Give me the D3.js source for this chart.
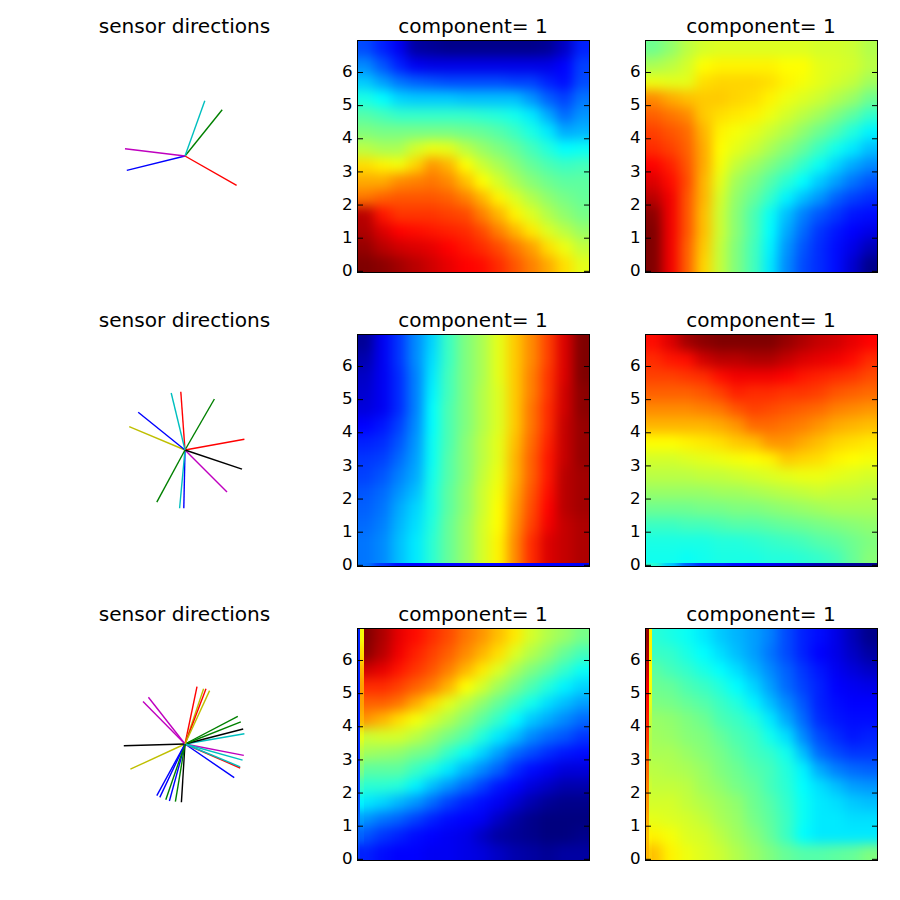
<!DOCTYPE html>
<html>
<head>
<meta charset="utf-8">
<script src="https://cdn.jsdelivr.net/npm/d3@7"></script>
<style>
  html, body { margin: 0; padding: 0; background: #fff; }
  text { font-family: "DejaVu Sans", sans-serif; fill: #000; }
</style>
</head>
<body>
<div id="chart"></div>
<script>
const sensorTitle = 'sensor directions';
const panelTitle = 'component= 1';
const yTicks = [0, 1, 2, 3, 4, 5, 6];
const yExtent = [-0.05, 6.95];

// sensor direction vectors, in colour-cycle order
const sensorsX1 = [-0.97, 0.62, 0.86, 0.33, -1.0];
const sensorsY1 = [-0.24, 0.77, -0.49, 0.92, 0.12];
const sensorsX2 = [-0.02, 0.49, 0.99, -0.09, 0.70, -0.93, 0.95, -0.78, -0.47, -0.07, -0.23];
const sensorsY2 = [-0.97, 0.85, 0.18, -0.97, -0.70, 0.39, -0.32, 0.63, -0.87, 0.97, 0.95];
const sensorsX3 = [0.82, 0.88, 0.92, 0.99, 0.98, -0.91, 0.97, -0.26, 0.93, 0.20, 0.96, -0.70, 0.31, -1.02, -0.42, -0.32, 0.35, 0.92, -0.61, 0.41, -0.06, -0.47, -0.16];
const sensorsY3 = [-0.56, 0.46, -0.40, 0.17, -0.19, -0.42, 0.25, -0.95, 0.37, 0.955, -0.27, 0.71, 0.92, -0.03, -0.89, -0.93, 0.92, -0.38, 0.78, 0.89, -0.97, -0.86, -0.96];
const sensorPalette = ['#0000ff', '#008000', '#ff0000', '#00bfbf', '#bf00bf', '#bfbf00', '#000000'];

// heatmap values on the 0-100 colour range, top row first
const heatA = [
  [18, 14, 10, 3, 2, 1, 1, 1, 1, 1, 1, 2, 6, 14],
  [24, 19, 14, 10, 9, 9, 9, 9, 9, 9, 9, 9, 11, 17],
  [30, 26, 22, 20, 19, 18, 18, 18, 18, 17, 17, 14, 12, 18],
  [38, 35, 31, 30, 30, 30, 29, 29, 29, 29, 25, 20, 17, 22],
  [45, 43, 41, 41, 41, 41, 41, 40, 39, 37, 33, 27, 21, 25],
  [50, 49, 49, 49, 49, 49, 48, 47, 45, 42, 38, 33, 27, 28],
  [57, 55, 55, 60, 63, 62, 57, 53, 50, 47, 43, 39, 35, 36],
  [68, 66, 64, 69, 75, 72, 65, 59, 55, 51, 47, 44, 42, 43],
  [73, 73, 76, 77, 78, 76, 71, 65, 60, 55, 51, 48, 46, 46],
  [78, 80, 81, 81, 81, 80, 77, 72, 66, 61, 56, 52, 49, 47],
  [95, 87, 84, 84, 84, 83, 82, 77, 72, 66, 61, 56, 52, 49],
  [96, 92, 89, 88, 87, 86, 85, 82, 77, 72, 67, 61, 57, 53],
  [98, 95, 93, 92, 91, 89, 87, 85, 82, 78, 74, 68, 63, 58],
  [100, 99, 97, 95, 93, 91, 89, 88, 85, 81, 77, 73, 68, 62]
];
const heatB = [
  [48, 52, 57, 60, 61, 61, 61, 61, 61, 61, 60, 60, 59, 56],
  [55, 57, 60, 65, 66, 66, 66, 66, 65, 65, 62, 61, 60, 57],
  [63, 62, 62, 68, 69, 69, 69, 68, 66, 64, 62, 60, 58, 54],
  [76, 73, 71, 70, 70, 69, 68, 66, 63, 61, 59, 56, 53, 48],
  [80, 78, 76, 70, 68, 67, 66, 63, 60, 57, 54, 50, 46, 41],
  [83, 81, 79, 72, 66, 64, 62, 59, 56, 52, 48, 44, 39, 34],
  [85, 83, 80, 73, 65, 62, 59, 55, 51, 47, 42, 37, 33, 29],
  [89, 86, 81, 73, 64, 58, 54, 50, 46, 41, 36, 31, 27, 24],
  [92, 88, 82, 72, 62, 54, 50, 45, 40, 35, 30, 26, 22, 19],
  [95, 90, 81, 72, 60, 52, 47, 41, 34, 29, 25, 20, 17, 15],
  [99, 90, 81, 71, 59, 51, 44, 36, 29, 23, 19, 16, 13, 12],
  [100, 90, 81, 71, 59, 51, 44, 35, 27, 21, 16, 13, 11, 9],
  [100, 90, 80, 70, 58, 50, 43, 34, 25, 19, 15, 12, 9, 5],
  [100, 90, 80, 69, 58, 50, 43, 33, 24, 18, 15, 12, 7, 1]
];
const heatC = [
  [2, 10, 16, 24, 31, 42, 50, 55, 62, 70, 76, 83, 92, 100],
  [4, 10, 16, 24, 32, 42, 50, 55, 62, 70, 76, 83, 92, 100],
  [6, 10, 15, 23, 33, 43, 50, 55, 62, 70, 77, 84, 92, 100],
  [7, 10, 15, 23, 34, 43, 50, 56, 61, 70, 77, 84, 93, 99],
  [8, 10, 15, 23, 35, 44, 50, 56, 61, 70, 78, 85, 93, 99],
  [11, 13, 17, 24, 35, 44, 50, 56, 61, 70, 78, 85, 94, 98],
  [14, 15, 19, 25, 36, 44, 51, 57, 62, 71, 79, 86, 94, 98],
  [16, 17, 21, 26, 36, 45, 51, 57, 62, 72, 80, 87, 94, 98],
  [17, 19, 23, 27, 37, 45, 51, 58, 63, 72, 80, 87, 95, 97],
  [19, 21, 25, 29, 38, 46, 52, 59, 64, 73, 81, 88, 95, 97],
  [20, 22, 27, 31, 38, 46, 52, 59, 65, 74, 82, 89, 95, 97],
  [21, 23, 28, 32, 39, 47, 53, 60, 65, 75, 83, 90, 94, 96],
  [22, 24, 29, 33, 40, 47, 53, 60, 66, 76, 85, 92, 94, 96],
  [22, 24, 29, 33, 40, 47, 53, 60, 66, 76, 85, 92, 94, 96]
];
const heatD = [
  [88, 92, 97, 99, 100, 100, 100, 100, 98, 96, 94, 93, 91, 89],
  [85, 87, 88, 93, 95, 95, 96, 96, 94, 92, 91, 90, 88, 85],
  [83, 83, 84, 85, 88, 90, 90, 90, 89, 87, 86, 85, 84, 82],
  [80, 80, 80, 81, 83, 86, 85, 85, 84, 84, 83, 81, 80, 79],
  [76, 76, 76, 77, 78, 81, 83, 82, 81, 80, 79, 77, 76, 75],
  [72, 72, 72, 72, 73, 75, 79, 79, 78, 77, 75, 73, 72, 71],
  [65, 65, 66, 67, 68, 70, 71, 75, 75, 73, 71, 69, 68, 67],
  [60, 60, 61, 62, 63, 64, 65, 66, 70, 69, 68, 66, 65, 64],
  [57, 57, 57, 58, 58, 59, 60, 61, 62, 63, 63, 62, 61, 60],
  [53, 53, 53, 53, 54, 54, 55, 56, 57, 58, 59, 58, 58, 57],
  [48, 48, 48, 49, 49, 50, 50, 51, 52, 53, 54, 55, 55, 55],
  [42, 42, 43, 43, 44, 45, 45, 46, 47, 48, 49, 50, 51, 52],
  [38, 38, 38, 38, 39, 39, 40, 41, 42, 43, 45, 46, 48, 50],
  [37, 37, 36, 37, 38, 38, 38, 39, 39, 40, 41, 43, 47, 51]
];
const heatE = [
  [100, 96, 91, 88, 85, 82, 78, 75, 71, 67, 60, 56, 53, 49],
  [99, 95, 90, 86, 83, 80, 76, 72, 68, 61, 56, 52, 47, 43],
  [93, 91, 87, 84, 81, 77, 72, 67, 61, 55, 50, 46, 41, 36],
  [85, 85, 83, 80, 77, 72, 65, 60, 54, 49, 44, 39, 34, 31],
  [80, 80, 78, 73, 68, 62, 57, 52, 47, 42, 37, 32, 29, 26],
  [75, 72, 68, 64, 60, 56, 51, 46, 41, 35, 30, 27, 24, 21],
  [59, 60, 60, 57, 53, 49, 45, 39, 33, 29, 24, 21, 19, 16],
  [54, 53, 52, 49, 47, 41, 36, 31, 26, 21, 18, 15, 13, 12],
  [46, 46, 46, 42, 38, 33, 28, 24, 20, 15, 12, 10, 8, 8],
  [40, 40, 39, 34, 29, 25, 21, 17, 13, 11, 8, 6, 4, 4],
  [33, 31, 28, 25, 21, 17, 14, 12, 10, 7, 4, 2, 1, 1],
  [25, 22, 20, 17, 14, 12, 11, 10, 6, 3, 1, 0, 0, 0],
  [19, 16, 14, 12, 11, 10, 9, 6, 3, 2, 1, 0, 0, 1],
  [14, 12, 11, 11, 10, 10, 9, 8, 6, 4, 3, 2, 3, 3]
];
const heatF = [
  [40, 38, 36, 33, 30, 28, 26, 23, 18, 14, 12, 9, 5, 1],
  [42, 41, 38, 35, 32, 29, 26, 22, 18, 14, 11, 9, 6, 3],
  [46, 43, 41, 38, 35, 32, 28, 24, 20, 16, 13, 10, 8, 6],
  [48, 47, 44, 42, 39, 35, 31, 26, 21, 17, 14, 11, 10, 9],
  [50, 49, 47, 45, 42, 39, 34, 29, 24, 19, 14, 12, 11, 11],
  [53, 52, 50, 48, 44, 42, 39, 33, 27, 21, 15, 13, 12, 12],
  [54, 53, 51, 50, 47, 44, 42, 37, 32, 24, 18, 15, 13, 14],
  [55, 55, 53, 51, 49, 46, 43, 41, 37, 29, 21, 18, 16, 16],
  [57, 56, 55, 53, 50, 48, 45, 43, 39, 34, 27, 23, 21, 20],
  [58, 58, 57, 54, 52, 49, 47, 43, 40, 35, 32, 29, 26, 25],
  [60, 60, 58, 56, 54, 52, 48, 45, 41, 36, 33, 32, 30, 29],
  [62, 61, 60, 58, 55, 53, 49, 46, 42, 36, 33, 33, 32, 32],
  [66, 64, 61, 60, 57, 54, 51, 47, 42, 35, 33, 33, 33, 33],
  [71, 66, 63, 61, 59, 56, 53, 50, 47, 45, 45, 46, 47, 50]
];

// the odd first rows and columns of the images
const bottomRowC = [22, 16, 12, 11, 11, 11, 11, 11, 11, 11, 11, 11, 11, 10];
const bottomRowD = [40, 30, 20, 15, 14, 12, 11, 10, 8, 6, 4, 3, 2, 1];
const leftColE0 = [14, 14, 14, 14, 14, 14, 15, 15, 16, 17, 18, 20, 20, 16];
const leftColE1 = [64, 68, 72, 74, 74, 72, 62, 56, 50, 42, 34, 26, 20, 14];
const leftColF0 = [98, 96, 93, 90, 88, 86, 84, 81, 79, 77, 75, 73, 71, 72];
const leftColF1 = [66, 66, 65, 64, 62, 58, 56, 56, 57, 59, 60, 62, 66, 70];

const panels = [
  { cells: heatA, col: 0, row: 0 },
  { cells: heatB, col: 1, row: 0 },
  { cells: heatC, col: 0, row: 1, bottom: bottomRowC },
  { cells: heatD, col: 1, row: 1, bottom: bottomRowD },
  { cells: heatE, col: 0, row: 2, left: [leftColE0, leftColE1], split: [2.7, 6.7] },
  { cells: heatF, col: 1, row: 2, left: [leftColF0, leftColF1], split: [3.8, 6.7] }
];
const sensorSets = [[sensorsX1, sensorsY1], [sensorsX2, sensorsY2], [sensorsX3, sensorsY3]];

const size = 232;
const colX = [357.5, 645.5];
const rowY = [40.5, 334.5, 628.5];
const sensorCx = 185;
const sensorR = 60;

const jet = d3.scaleLinear()
  .domain([0, 11, 35, 50, 65, 89, 100])
  .range(['#00007f', '#0000ff', '#00ffff', '#7fff7f', '#ffff00', '#ff0000', '#7f0000'])
  .clamp(true);
const colour = d3.scaleOrdinal().range(sensorPalette);

const svg = d3.select('#chart').append('svg')
  .attr('width', 900)
  .attr('height', 900);

const defs = svg.append('defs');

function addBlur(id, deviation) {
  defs.append('filter').attr('id', id)
    .attr('filterUnits', 'userSpaceOnUse')
    .attr('x', 300).attr('y', 0).attr('width', 600).attr('height', 900)
    .attr('color-interpolation-filters', 'sRGB')
    .append('feGaussianBlur').attr('stdDeviation', deviation);
}
addBlur('smooth', 6);
addBlur('smoothY', '0 5');
addBlur('smoothX', '5 0');

function drawPanel(p, i) {
  const x0 = colX[p.col];
  const y0 = rowY[p.row];
  const nRows = p.cells.length;
  const nCols = p.cells[0].length;

  const x = d3.scaleBand().domain(d3.range(nCols)).range([x0, x0 + size]);
  const y = d3.scaleBand().domain(d3.range(nRows)).range([y0, y0 + size]);
  const yAxisScale = d3.scaleLinear().domain(yExtent).range([y0 + size, y0]);

  const clipId = 'clip' + i;
  defs.append('clipPath').attr('id', clipId).append('rect')
    .attr('x', x0).attr('y', y0).attr('width', size).attr('height', size);

  const clipped = svg.append('g').attr('clip-path', `url(#${clipId})`);
  const image = clipped.append('g').attr('filter', 'url(#smooth)');
  const bleed = 24; // edge cells run past the frame so the blur does not fade out

  const rows = image.selectAll('g').data(p.cells).enter().append('g');
  rows.selectAll('rect')
    .data((d, r) => d.map((v, c) => ({ v, c, r })))
    .enter().append('rect')
    .attr('x', d => x(d.c) - (d.c === 0 ? bleed : 0))
    .attr('y', d => y(d.r) - (d.r === 0 ? bleed : 0))
    .attr('width', d => x.bandwidth() + (d.c === 0 || d.c === nCols - 1 ? bleed : 0))
    .attr('height', d => y.bandwidth() + (d.r === 0 || d.r === nRows - 1 ? bleed : 0))
    .attr('fill', d => jet(d.v))
    .attr('shape-rendering', 'crispEdges');

  if (p.bottom) {
    clipped.append('g').attr('filter', 'url(#smoothX)')
      .selectAll('rect').data(p.bottom).enter().append('rect')
      .attr('x', (d, c) => x(c) - (c === 0 ? bleed : 0))
      .attr('y', y0 + size - 3.5)
      .attr('width', (d, c) => x.bandwidth() + (c === 0 || c === nCols - 1 ? bleed : 0))
      .attr('height', 3.5)
      .attr('fill', d => jet(d))
      .attr('shape-rendering', 'crispEdges');
  }

  if (p.left) {
    p.left.forEach((colValues, k) => {
      const from = k === 0 ? 0 : p.split[k - 1];
      clipped.append('g').attr('filter', 'url(#smoothY)')
        .selectAll('rect').data(colValues).enter().append('rect')
        .attr('x', x0 + from)
        .attr('y', (d, r) => y(r) - (r === 0 ? bleed : 0))
        .attr('width', p.split[k] - from)
        .attr('height', (d, r) => y.bandwidth() + (r === 0 || r === nRows - 1 ? bleed : 0))
        .attr('fill', d => jet(d))
        .attr('shape-rendering', 'crispEdges');
    });
  }

  // frame
  svg.append('rect')
    .attr('x', x0).attr('y', y0)
    .attr('width', size).attr('height', size)
    .attr('fill', 'none').attr('stroke', '#000').attr('stroke-width', 1);

  // left ticks with labels, right ticks without
  const left = svg.append('g')
    .attr('transform', `translate(${x0},0)`)
    .call(d3.axisLeft(yAxisScale).tickValues(yTicks).tickFormat(d3.format('d')).tickSizeInner(-5.5).tickSizeOuter(0).tickPadding(5));
  left.select('.domain').remove();
  left.selectAll('text').attr('font-size', 16.7).attr('font-family', '"DejaVu Sans", sans-serif').attr('dy', '0.28em');

  const right = svg.append('g')
    .attr('transform', `translate(${x0 + size},0)`)
    .call(d3.axisRight(yAxisScale).tickValues(yTicks).tickFormat('').tickSizeInner(-5.5).tickSizeOuter(0));
  right.select('.domain').remove();

  svg.append('text')
    .attr('x', x0 + size / 2 - 0.5)
    .attr('y', y0 - 8)
    .attr('text-anchor', 'middle')
    .attr('font-size', 20.1)
    .text(panelTitle);
}

function drawSensors(set, row) {
  const cy = rowY[row] + size / 2 - 0.5;
  const sx = d3.scaleLinear().domain([-1, 1]).range([sensorCx - sensorR, sensorCx + sensorR]);
  const sy = d3.scaleLinear().domain([-1, 1]).range([cy + sensorR, cy - sensorR]);
  const xs = set[0];
  const ys = set[1];

  svg.append('g').selectAll('line')
    .data(xs)
    .enter().append('line')
    .attr('x1', sx(0)).attr('y1', sy(0))
    .attr('x2', d => sx(d))
    .attr('y2', (d, i) => sy(ys[i]))
    .attr('stroke', (d, i) => colour(i % sensorPalette.length))
    .attr('stroke-width', 1.4);

  svg.append('text')
    .attr('x', sensorCx - 0.5)
    .attr('y', rowY[row] - 8)
    .attr('text-anchor', 'middle')
    .attr('font-size', 20.1)
    .text(sensorTitle);
}

panels.forEach(drawPanel);
sensorSets.forEach(drawSensors);
</script>
</body>
</html>
